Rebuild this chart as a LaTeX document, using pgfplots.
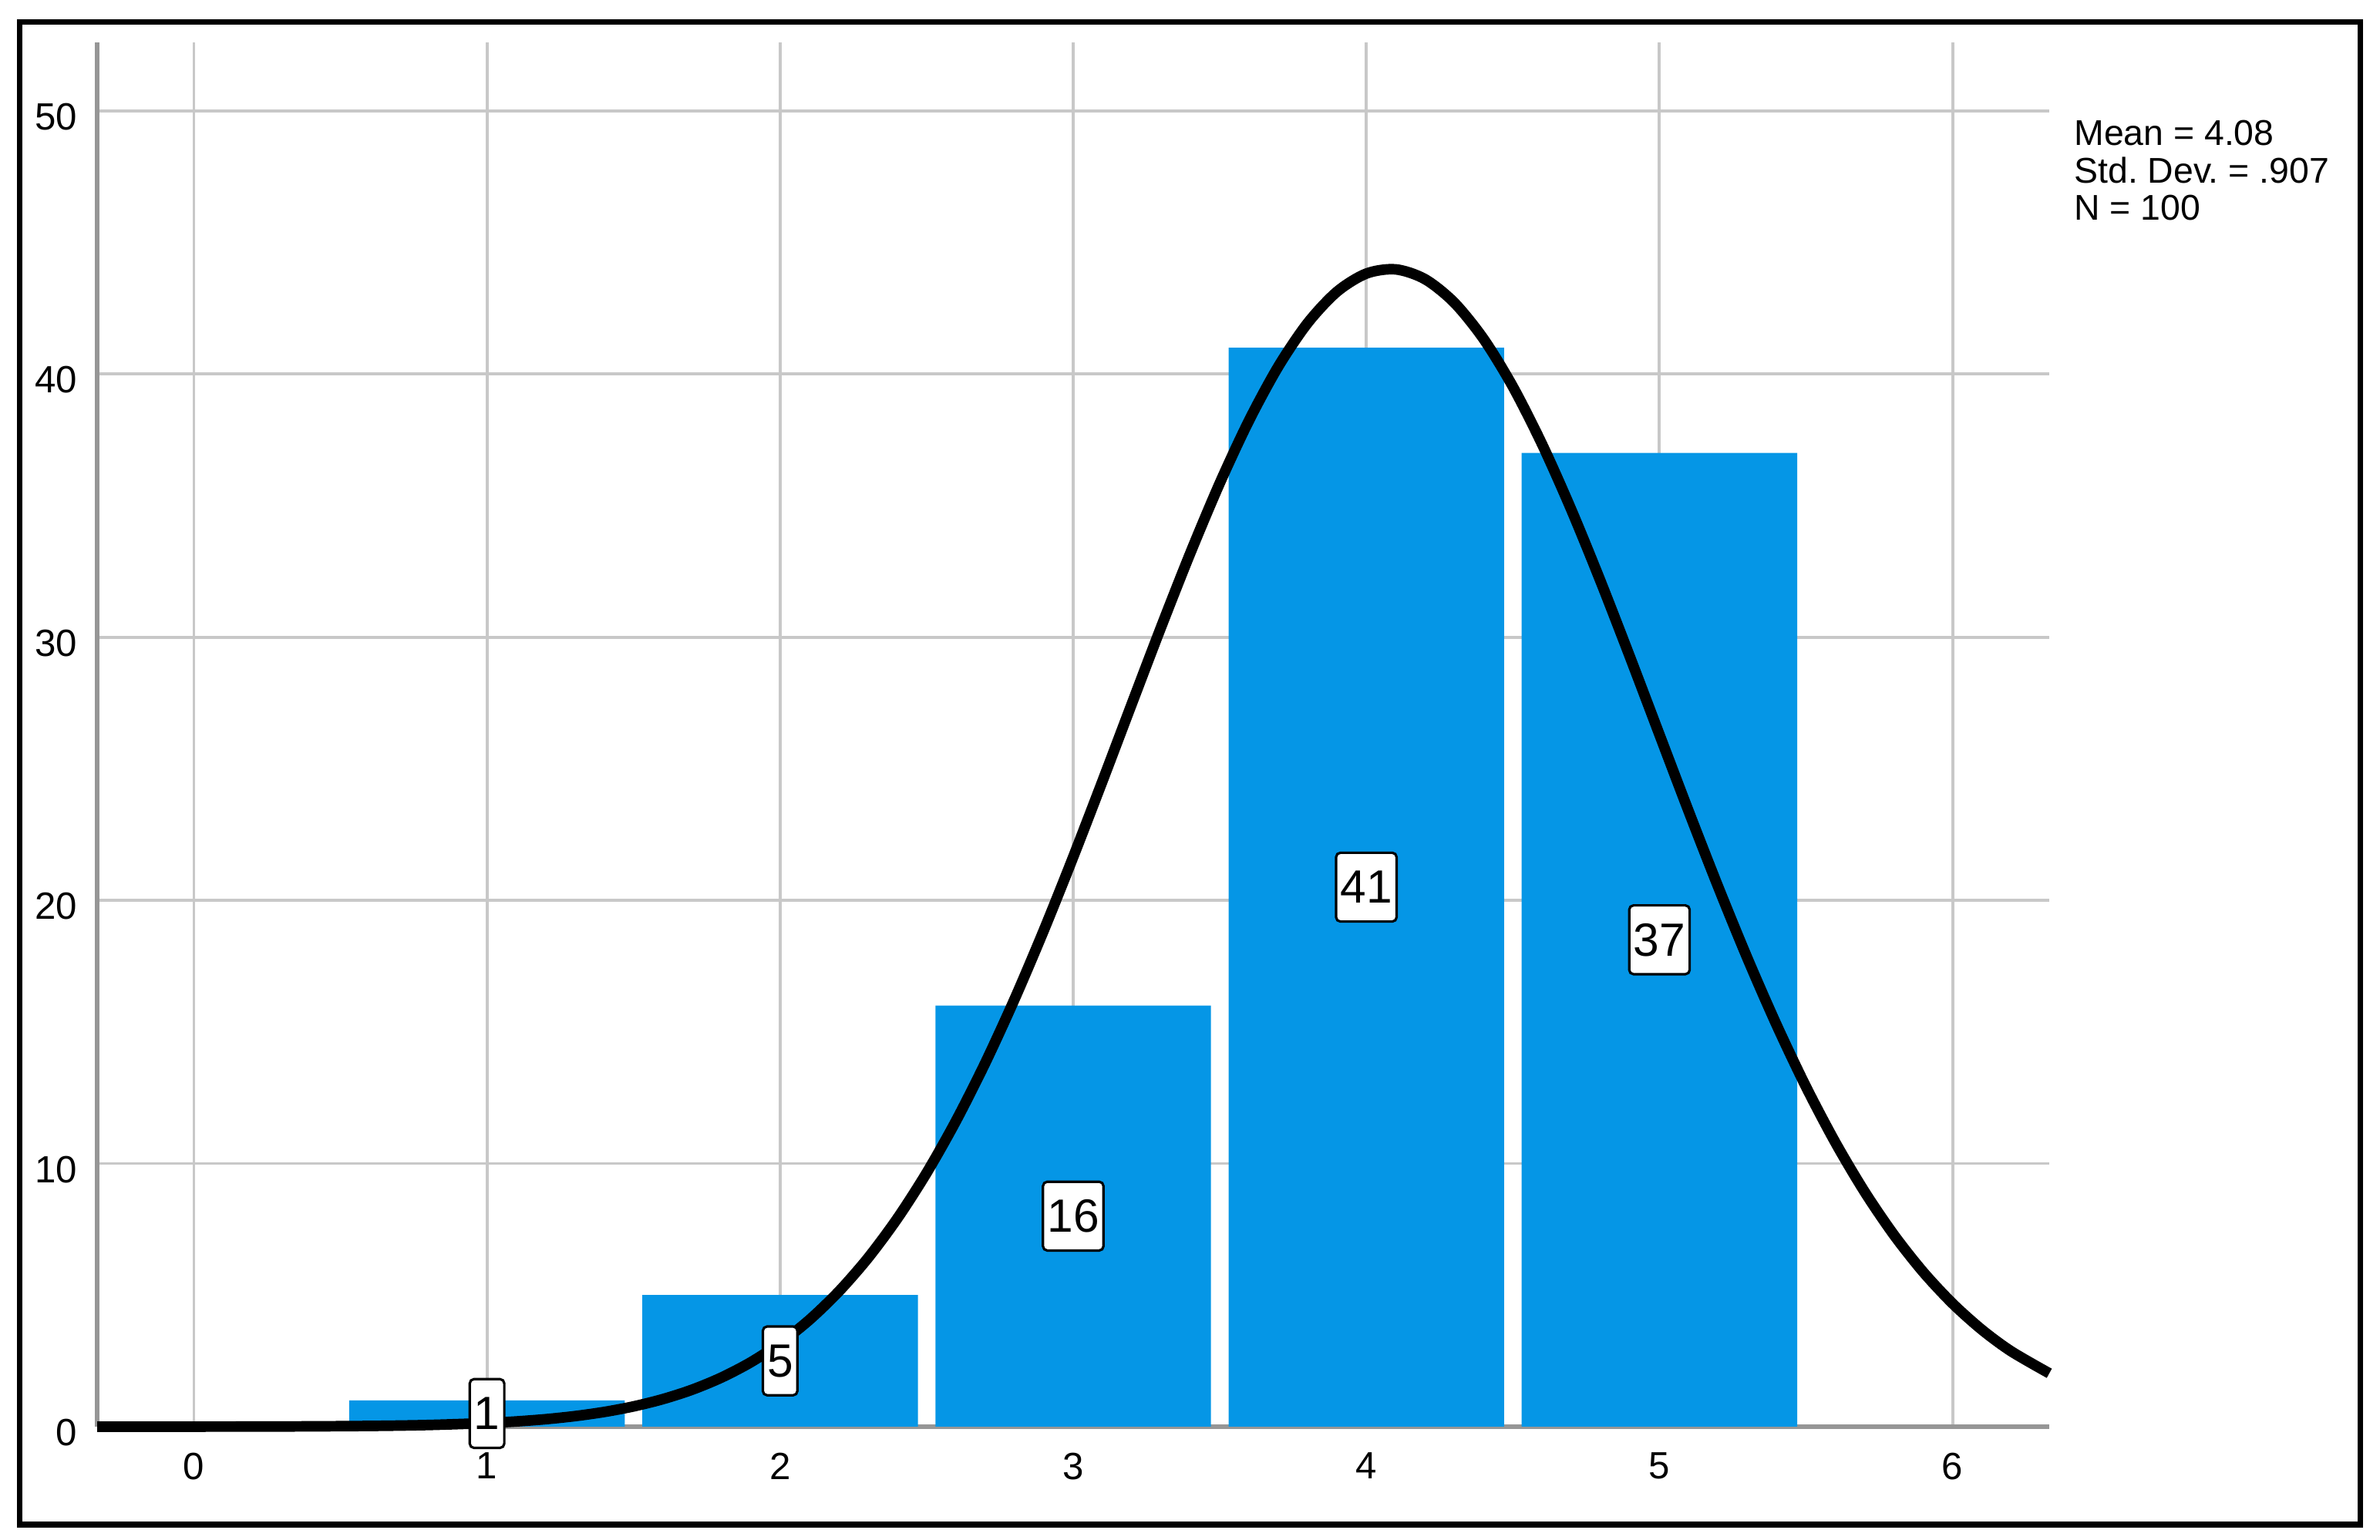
\documentclass[border=0pt]{standalone}
\usepackage{pgfplots}
\pgfplotsset{compat=1.18}
\usepackage{fontspec}
\setmainfont{Liberation Sans}
\definecolor{barblue}{RGB}{5,150,230}
\definecolor{gridgray}{RGB}{200,200,200}
\definecolor{axisgray}{RGB}{150,150,150}
\frenchspacing
\begin{document}
\begin{tikzpicture}
\begin{axis}[
 name=ax,
 at={(0,0)}, anchor=south west,
 scale only axis, width=360.2pt, height=255.5pt,
 xmin=-0.33, xmax=6.33, ymin=0, ymax=52.6,
 axis x line*=bottom, axis y line*=left,
 axis line style={axisgray, line width=0.9pt, -},
 xtick={0,...,6}, ytick={0,10,...,50},
 major tick length=0pt,
 grid=major,
 major grid style={gridgray, line width=0.55pt},
 tick label style={font=\fontsize{7}{8}\selectfont, text=black},
 /pgf/number format/assume math mode=true,
 xticklabel style={yshift=-1.3pt},
 yticklabel style={xshift=-0.2pt, yshift=-1.1pt},
 clip=false,
]
\addplot[ybar, bar width=0.94, fill=barblue, draw=none] coordinates {(1,1) (2,5) (3,16) (4,41) (5,37)};
\addplot[draw=none, mark=none, nodes near coords, point meta=explicit symbolic,
  every node near coord/.append style={anchor=center, draw=black, fill=white, line width=0.45pt,
  rounded corners=0.8pt, inner xsep=0.8pt, inner ysep=0pt, minimum height=12.7pt,
  font=\fontsize{8.6}{10}\selectfont, text=black}]
  coordinates {(1,0.5) [1] (2,2.5) [5] (3,8) [16] (4,20.5) [41] (5,18.5) [37]};
\addplot[black, line width=1.95pt, smooth] coordinates {
(-0.33,0.0003) (0,0.0018) (0.3,0.0074) (0.6,0.028) (0.8,0.0636)
(1,0.138) (1.1,0.199) (1.2,0.284) (1.3,0.401) (1.4,0.559) (1.5,0.770) (1.6,1.047) (1.7,1.406) (1.8,1.867) (1.9,2.448)
(2,3.172) (2.1,4.060) (2.2,5.134) (2.3,6.412) (2.4,7.913) (2.5,9.646) (2.6,11.618) (2.7,13.824)
(2.8,16.249) (2.9,18.870) (3,21.649) (3.1,24.536) (3.2,27.472) (3.3,30.389)
(3.4,33.208) (3.5,35.852) (3.6,38.237) (3.7,40.289) (3.8,41.938) (3.9,43.127) (4.0,43.814)
(4.1,43.974) (4.2,43.602) (4.3,42.710) (4.4,41.331) (4.5,39.513) (4.6,37.319) (4.7,34.821)
(4.8,32.097) (4.9,29.229) (5,26.296) (5.1,23.371) (5.2,20.521) (5.3,17.800) (5.4,15.255)
(5.5,12.914) (5.6,10.801) (5.7,8.924) (5.8,7.285) (5.9,5.874) (6,4.680)
(6.1,3.683) (6.2,2.864) (6.33,2.028)};
\end{axis}
\node[anchor=north west, font=\fontsize{6.6}{6.9}\selectfont, align=left, inner sep=0pt]
  at ([shift={(364.6pt,241.3pt)}]ax.south west) {Mean = 4.08\\Std. Dev. = .907\\N = 100};
\draw[line width=1pt] ([shift={(-14.30pt,-18.07pt)}]ax.south west) rectangle ([shift={(417.53pt,259.27pt)}]ax.south west);
\pgfresetboundingbox
\path[use as bounding box] ([shift={(-17.93pt,-20.91pt)}]ax.south west) rectangle ([shift={(421.23pt,263.32pt)}]ax.south west);
\end{tikzpicture}
\end{document}
